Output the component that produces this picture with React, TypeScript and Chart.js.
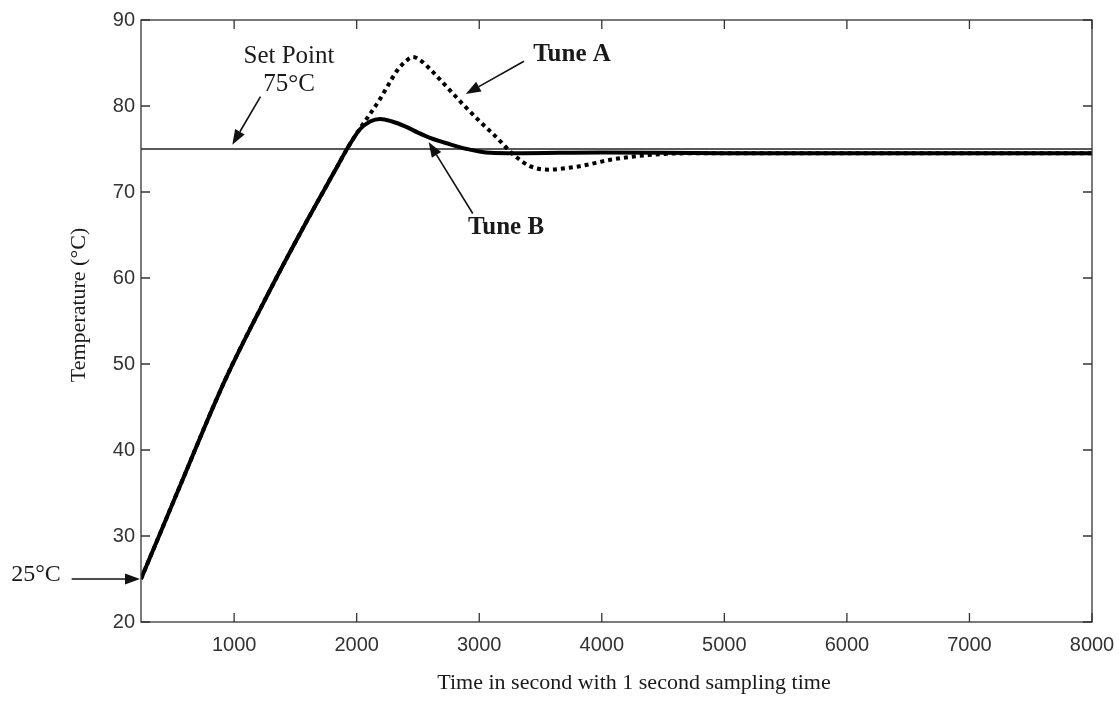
import React, { useEffect, useRef } from "react";
import { Chart, registerables } from "chart.js";

Chart.register(...registerables);

// ---------------- data ----------------
const xTicks = [1000, 2000, 3000, 4000, 5000, 6000, 7000, 8000];
const yTicks = [20, 30, 40, 50, 60, 70, 80, 90];

const tuneBTime = [240, 540, 925, 1293, 1600, 1839, 1921, 2027, 2110, 2190, 2290, 2400, 2500, 2598, 2750, 2900, 3088, 3300, 4000, 5000, 6000, 7000, 8000];
const tuneBTemp = [25, 35.2, 48.1, 58.6, 66.8, 72.9, 75.0, 77.3, 78.2, 78.5, 78.2, 77.6, 76.9, 76.3, 75.6, 75.0, 74.55, 74.5, 74.6, 74.5, 74.5, 74.5, 74.5];

const tuneATime = [240, 540, 925, 1293, 1600, 1839, 1921, 2027, 2110, 2190, 2260, 2329, 2400, 2459, 2530, 2598, 2730, 2867, 3005, 3145, 3267, 3414, 3577, 3720, 3822, 4091, 4380, 4700, 5000, 8000];
const tuneATemp = [25, 35.2, 48.1, 58.6, 66.8, 72.9, 75.0, 77.4, 79.1, 80.8, 82.5, 84.1, 85.2, 85.7, 85.2, 84.3, 82.3, 80.2, 78.2, 76.3, 74.5, 73.0, 72.6, 72.8, 73.0, 73.8, 74.3, 74.5, 74.5, 74.5];

const setPointTime = [240, 8000];
const setPointTemp = [75, 75];

const X_MIN = 240;
const X_MAX = 8000;
const Y_MIN = 20;
const Y_MAX = 90;

const SERIF = "'Liberation Serif', 'Times New Roman', serif";
const SANS = "'Liberation Sans', Arial, sans-serif";

function toPoints(xs: number[], ys: number[]) {
  return xs.map((x, i) => ({ x, y: ys[i] }));
}

function drawArrow(ctx: CanvasRenderingContext2D, x1: number, y1: number, x2: number, y2: number) {
  const head = 15;
  const half = 5.5;
  const ang = Math.atan2(y2 - y1, x2 - x1);
  const bx = x2 - head * Math.cos(ang);
  const by = y2 - head * Math.sin(ang);
  ctx.save();
  ctx.strokeStyle = "#111";
  ctx.fillStyle = "#111";
  ctx.lineWidth = 1.6;
  ctx.beginPath();
  ctx.moveTo(x1, y1);
  ctx.lineTo(bx, by);
  ctx.stroke();
  ctx.beginPath();
  ctx.moveTo(x2, y2);
  ctx.lineTo(bx + half * Math.sin(ang), by - half * Math.cos(ang));
  ctx.lineTo(bx - half * Math.sin(ang), by + half * Math.cos(ang));
  ctx.closePath();
  ctx.fill();
  ctx.restore();
}

const framePlugin = {
  id: "frameAndNotes",
  afterDraw(chart: any) {
    const { ctx, chartArea } = chart;
    const xs = chart.scales.x;
    const ys = chart.scales.y;
    const { left, right, top, bottom } = chartArea;
    ctx.save();
    // frame
    ctx.strokeStyle = "#333";
    ctx.lineWidth = 1.3;
    ctx.strokeRect(left, top, right - left, bottom - top);
    // inward ticks
    const tl = 9;
    ctx.beginPath();
    xTicks.forEach((v) => {
      const px = xs.getPixelForValue(v);
      ctx.moveTo(px, bottom);
      ctx.lineTo(px, bottom - tl);
      ctx.moveTo(px, top);
      ctx.lineTo(px, top + tl);
    });
    yTicks.forEach((v) => {
      const py = ys.getPixelForValue(v);
      ctx.moveTo(left, py);
      ctx.lineTo(left + tl, py);
      ctx.moveTo(right, py);
      ctx.lineTo(right - tl, py);
    });
    ctx.stroke();

    // axis titles
    ctx.fillStyle = "#1a1a1a";
    ctx.textAlign = "center";
    ctx.textBaseline = "middle";
    ctx.font = `22px ${SERIF}`;
    ctx.fillText("Time in second with 1 second sampling time", 634, 683);
    ctx.save();
    ctx.translate(79, 305);
    ctx.rotate(-Math.PI / 2);
    ctx.fillText("Temperature (°C)", 0, 0);
    ctx.restore();

    // annotations
    const P = (x: number, y: number) => [xs.getPixelForValue(x), ys.getPixelForValue(y)];
    ctx.font = `25px ${SERIF}`;
    ctx.fillText("Set Point", 289, 56);
    ctx.fillText("75°C", 289, 84);
    ctx.font = `bold 25px ${SERIF}`;
    ctx.fillText("Tune A", 572, 55);
    ctx.fillText("Tune B", 506, 228);
    ctx.font = `24px ${SERIF}`;
    ctx.fillText("25°C", 36, 575);

    let a = P(1215, 81.1), b = P(985, 75.5);
    drawArrow(ctx, a[0], a[1], b[0], b[1]);
    a = P(3365, 85.2); b = P(2890, 81.4);
    drawArrow(ctx, a[0], a[1], b[0], b[1]);
    a = P(2947, 67.5); b = P(2587, 75.8);
    drawArrow(ctx, a[0], a[1], b[0], b[1]);
    a = P(-326, 25); b = P(X_MIN, 25);
    drawArrow(ctx, a[0], a[1], b[0] - 1, b[1]);
    ctx.restore();
  },
};

export default function App() {
  const ref = useRef<HTMLCanvasElement | null>(null);
  useEffect(() => {
    if (!ref.current) return;
    const chart = new Chart(ref.current, {
      type: "line",
      data: {
        datasets: [
          {
            label: "Set Point",
            data: toPoints(setPointTime, setPointTemp),
            borderColor: "#222",
            borderWidth: 1.3,
            pointRadius: 0,
            fill: false,
            order: 3,
          },
          {
            label: "Tune B",
            data: toPoints(tuneBTime, tuneBTemp),
            borderColor: "#000",
            borderWidth: 4,
            pointRadius: 0,
            fill: false,
            cubicInterpolationMode: "monotone",
            order: 2,
          },
          {
            label: "Tune A",
            data: toPoints(tuneATime, tuneATemp),
            borderColor: "#000",
            borderWidth: 4,
            borderDash: [4, 4],
            borderCapStyle: "butt",
            pointRadius: 0,
            fill: false,
            cubicInterpolationMode: "monotone",
            order: 1,
          },
        ],
      },
      options: {
        responsive: false,
        animation: false,
        devicePixelRatio: 1,
        layout: { padding: { left: 0, top: 20, right: 27, bottom: 0 } },
        plugins: { legend: { display: false }, tooltip: { enabled: false } },
        scales: {
          x: {
            type: "linear",
            min: X_MIN,
            max: X_MAX,
            afterBuildTicks: (s: any) => {
              s.ticks = xTicks.map((v) => ({ value: v }));
            },
            afterFit: (s: any) => {
              s.height = 90;
              s.paddingRight = 0;
              s.paddingLeft = 0;
            },
            grid: { display: false, drawTicks: false },
            border: { display: false },
            ticks: {
              padding: 11,
              color: "#333",
              font: { family: SANS, size: 20 },
              maxRotation: 0,
              autoSkip: false,
              callback: (v: any) => String(v),
            },
          },
          y: {
            type: "linear",
            min: Y_MIN,
            max: Y_MAX,
            afterBuildTicks: (s: any) => {
              s.ticks = yTicks.map((v) => ({ value: v }));
            },
            afterFit: (s: any) => {
              s.width = 141;
              s.paddingTop = 0;
              s.paddingBottom = 0;
            },
            grid: { display: false, drawTicks: false },
            border: { display: false },
            ticks: {
              padding: 6,
              color: "#333",
              font: { family: SANS, size: 20 },
              autoSkip: false,
              callback: (v: any) => String(v),
            },
          },
        },
      } as any,
      plugins: [framePlugin],
    });
    return () => chart.destroy();
  }, []);
  return (
    <div style={{ position: "absolute", left: 0, top: 0, width: 1119, height: 712, background: "#fff" }}>
      <canvas ref={ref} width={1119} height={712} style={{ display: "block" }} />
    </div>
  );
}
